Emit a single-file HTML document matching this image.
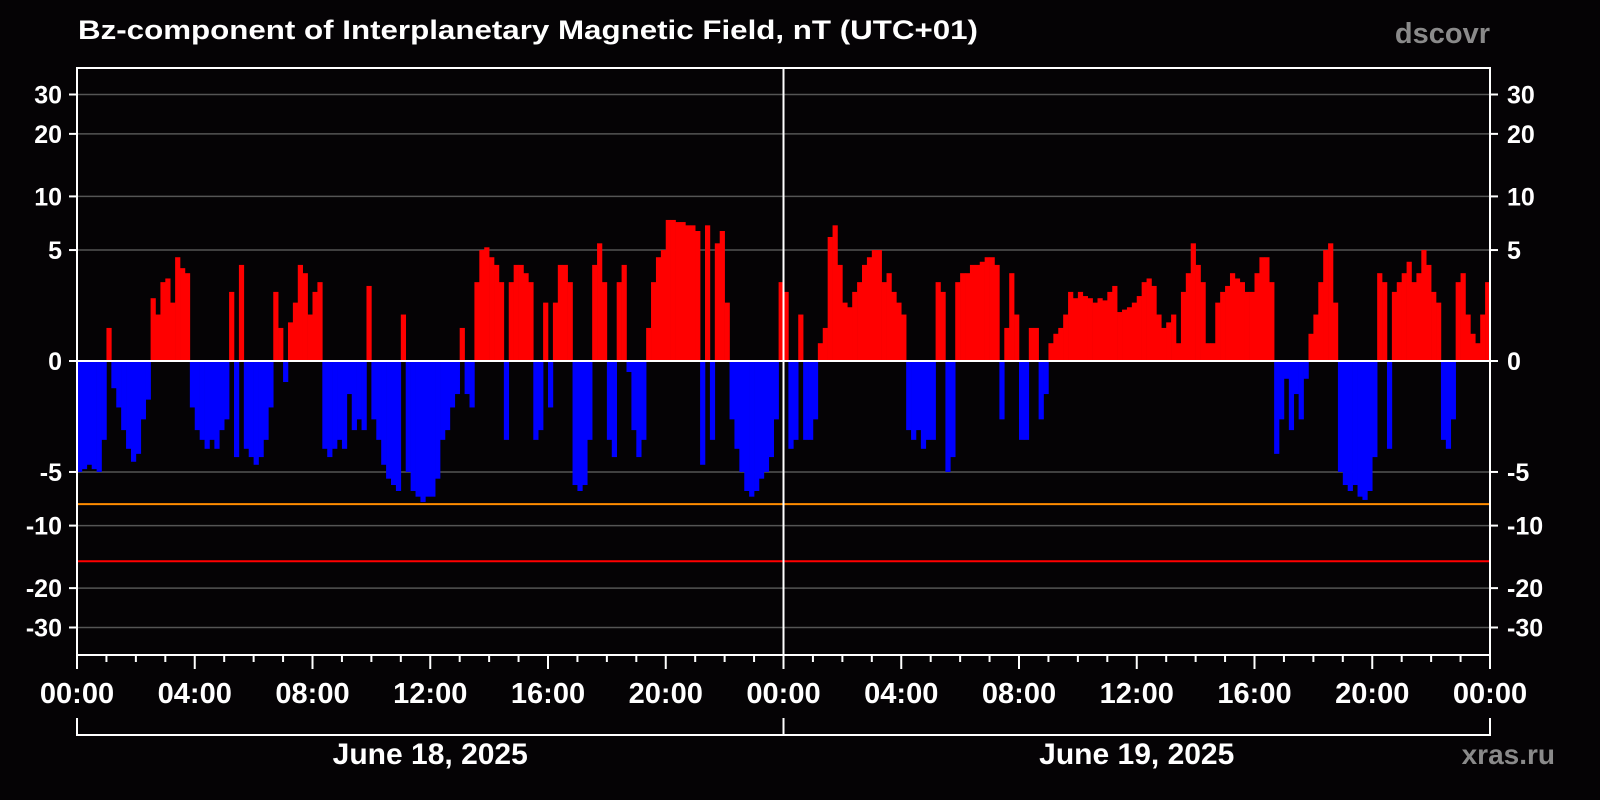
<!DOCTYPE html>
<html><head><meta charset="utf-8">
<style>
html,body{margin:0;padding:0;background:#050305;}
svg{display:block;}
text{font-family:"Liberation Sans",Arial,sans-serif;font-weight:bold;}
</style></head>
<body>
<svg id="chart" width="1600" height="800" viewBox="0 0 1600 800" xmlns="http://www.w3.org/2000/svg">
<rect x="0" y="0" width="1600" height="800" fill="#050305"/>
<text x="78" y="39" fill="#ffffff" font-size="27" textLength="900" lengthAdjust="spacingAndGlyphs">Bz-component of Interplanetary Magnetic Field, nT (UTC+01)</text>
<text x="1490" y="43" fill="#8a8a8a" font-size="29" text-anchor="end">dscovr</text>
<text x="1555" y="764" fill="#8a8a8a" font-size="28" text-anchor="end">xras.ru</text>
<g id="grid"></g>
<g id="bars"></g>
<g id="overlay"></g>
<g id="axes"></g>
</svg>
<script>
// Bz values at 10-minute resolution (6 per hour), day 1 then day 2
const bzDay1 = [
-5,-4.8,-4.5,-4.8,-5,-3,
1.0,-0.8,-1.5,-2.5,-3.5,-4.3,
-3.8,-2.0,-1.2,2.2,1.5,3.0,
3.2,2.0,4.5,3.8,3.5,-1.5,
-2.5,-3,-3.5,-3,-3.5,-2.5,
-2,2.5,-4,4,-3.5,-4,
-4.5,-4,-3,-1.5,2.5,1.0,
-0.6,1.2,2.0,4.0,3.5,1.5,
2.5,3,-3.5,-4,-3.5,-3,
-3.5,-1,-2.5,-2,-2.5,2.8,
-2,-3,-4.5,-5.5,-6,-6.5,
1.5,-5,-6.5,-7,-7.5,-7,
-7,-5.5,-3,-2.5,-1.5,-1,
1.0,-1,-1.5,3,5,5.2,
4.5,4,3,-3,3,4,
4,3.5,3,-3,-2.5,2,
-1.5,2,4,4,3,-6,
-6.5,-6,-3,4,5.5,3,
-3,-4,3,4,-0.3,-2.5,
-4,-3,1,3,4.5,5,
7.5,7.5,7.3,7.3,7,7,
6.5,-4.5,7,-3,5.5,6.5,
2,-2,-3.5,-5,-6.5,-7,
-6.5,-5.5,-5,-4,-2,3
];
const bzDay2 = [
2.5,-3.5,-3,1.5,-3,-3,
-2,0.5,1,6,7,4,
2,1.8,2.5,3,4,4.5,
5,5,3,3.5,2.5,2,
1.5,-2.5,-3,-2.5,-3.5,-3,
-3,3,2.5,-5,-4,3,
3.5,3.5,4,4,4.2,4.5,
4.5,4,-2,1,3.5,1.5,
-3,-3,1,1,-2,-1,
0.5,0.8,1,1.5,2.5,2.2,
2.5,2.3,2.2,2.0,2.2,2.1,
2.5,2.8,1.6,1.7,1.8,2.0,
2.3,3,3.2,2.8,1.5,1.0,
1.2,1.5,0.5,2.5,3.5,5.5,
4,3,0.5,0.5,2,2.5,
2.8,3.5,3.2,3,2.5,2.5,
3.5,4.5,4.5,3,-3.8,-2,
-0.5,-2.5,-1,-2,-0.5,0.8,
1.5,3,5,5.5,2,-5,
-6,-6.5,-6,-7,-7.3,-6.5,
-4,3.5,3,-3.5,2.5,3,
3.5,4.2,3,3.5,5,4,
2.5,2,-3,-3.5,-2,3,
3.5,1.5,0.8,0.5,1.5,3
];
const yTicks = [30,20,10,5,0,-5,-10,-20,-30];
const xTickLabels = ["00:00","04:00","08:00","12:00","16:00","20:00","00:00","04:00","08:00","12:00","16:00","20:00","00:00"];
const dayLabels = ["June 18, 2025","June 19, 2025"];
const warnLevel = -7.7;
const stormLevel = -15;

const NS="http://www.w3.org/2000/svg";
const X0=77, X1=1490, YT=68, YB=655, Y0=361, K=108.3, C=2.8, HOURS=48;
function xAt(h){return X0+(X1-X0)*h/HOURS;}
function yAt(v){const s=v<0?-1:1;return Y0 - s*K*Math.log(1+Math.abs(v)/C);}
function mk(tag,attrs,parent){const e=document.createElementNS(NS,tag);for(const k in attrs)e.setAttribute(k,attrs[k]);parent.appendChild(e);return e;}

const grid=document.getElementById('grid'), bars=document.getElementById('bars'), ov=document.getElementById('overlay'), axes=document.getElementById('axes');
yTicks.forEach(v=>{
  const y=yAt(v);
  if(v!==0){
    const g=mk('line',{x1:X0,x2:X1,y1:y,y2:y,stroke:'#555','stroke-width':1.5},grid);
    
    
  }
  const tl=mk('line',{x1:X0-8,x2:X0,y1:y,y2:y,stroke:'#fff','stroke-width':2},axes);
  
  
  const tr=mk('line',{x1:X1,x2:X1+8,y1:y,y2:y,stroke:'#fff','stroke-width':2},axes);
  
  
  const l=mk('text',{x:62,y:y+9,fill:'#fff','font-size':25,'text-anchor':'end'},axes);
  l.textContent=String(v);
  
  
  const r=mk('text',{x:1507,y:y+9,fill:'#fff','font-size':25,'text-anchor':'start'},axes);
  r.textContent=String(v);
  
  
});
const all=bzDay1.concat(bzDay2);
const step=HOURS/all.length;
all.forEach((v,i)=>{
  const xa=xAt(i*step), xb=xAt((i+1)*step), y=yAt(v);
  const b=mk('rect',{x:xa,width:xb-xa+0.3,y:Math.min(y,Y0),height:Math.abs(y-Y0),fill:v>=0?'#ff0000':'#0000ff'},bars);
  
  
});
const wl=mk('line',{x1:X0,x2:X1,y1:yAt(warnLevel),y2:yAt(warnLevel),stroke:'#ff8c00','stroke-width':2},ov);


const sl=mk('line',{x1:X0,x2:X1,y1:yAt(stormLevel),y2:yAt(stormLevel),stroke:'#ff0000','stroke-width':2},ov);


const zl=mk('line',{x1:X0,x2:X1,y1:Y0,y2:Y0,stroke:'#fff','stroke-width':2},ov);


const dl=mk('line',{x1:xAt(24),x2:xAt(24),y1:YT,y2:YB,stroke:'#fff','stroke-width':2},ov);


const fr=mk('rect',{x:X0,y:YT,width:X1-X0,height:YB-YT,fill:'none',stroke:'#fff','stroke-width':2},axes);


for(let h=0;h<=HOURS;h++){
  const x=xAt(h), major=h%4===0;
  const t=mk('line',{x1:x,x2:x,y1:YB,y2:YB+(major?14:7),stroke:'#fff','stroke-width':2},axes);
  
  
}
xTickLabels.forEach((s,i)=>{
  const t=mk('text',{x:xAt(i*4),y:703,fill:'#fff','font-size':29,'text-anchor':'middle'},axes);
  t.textContent=s;
  
  
});
const br=mk('path',{d:`M${X0} 718 V735 H${X1} V718 M${xAt(24)} 718 V735`,fill:'none',stroke:'#fff','stroke-width':2},axes);


dayLabels.forEach((s,i)=>{
  const t=mk('text',{x:xAt(12+24*i),y:764,fill:'#fff','font-size':30,'text-anchor':'middle'},axes);
  t.textContent=s;
  
  
});
</script>
</body></html>
